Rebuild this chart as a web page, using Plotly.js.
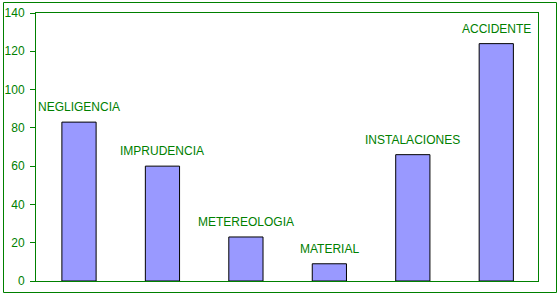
<!DOCTYPE html>
<html>
<head>
<meta charset="utf-8">
<script src="https://cdn.plot.ly/plotly-3.0.1.min.js"></script>
<style>
html,body{margin:0;padding:0;background:#fff;}
#chart{width:559px;height:295px;}
</style>
</head>
<body>
<div id="chart"></div>
<script>
var categories = ["NEGLIGENCIA", "IMPRUDENCIA", "METEREOLOGIA", "MATERIAL", "INSTALACIONES", "ACCIDENTE"];
var values = [83, 60, 23, 9, 66, 124];
var yTicks = [0, 20, 40, 60, 80, 100, 120, 140];

var green = '#008000';
var W = 559, H = 295;
var m = {l: 36, r: 21, t: 13, b: 14};
var pw = W - m.l - m.r, ph = H - m.t - m.b;
function px2x(p){ return (p - m.l) / pw; }
function py2y(p){ return (H - m.b - p) / ph; }

var trace = {
  type: 'bar',
  x: categories,
  y: values,
  marker: {color: '#9999FF', line: {color: '#000000', width: 1}},
  hoverinfo: 'none'
};

var annotations = categories.map(function(c, i){
  return {
    x: c, y: values[i], xref: 'x', yref: 'y',
    text: c, showarrow: false,
    yanchor: 'bottom', xanchor: 'center', yshift: 6,
    font: {family: 'Liberation Sans, Arial, sans-serif', size: 12, color: green}
  };
});

var layout = {
  width: W, height: H,
  margin: m,
  paper_bgcolor: '#ffffff',
  plot_bgcolor: '#ffffff',
  showlegend: false,
  bargap: 0.59,
  font: {family: 'Liberation Sans, Arial, sans-serif', size: 12, color: green},
  xaxis: {
    showline: true, linecolor: green, linewidth: 1, mirror: true,
    showticklabels: false, ticks: '', showgrid: false, zeroline: false,
    fixedrange: true
  },
  yaxis: {
    range: [0, 140], tickvals: yTicks, ticktext: yTicks.map(String),
    showline: true, linecolor: green, linewidth: 1, mirror: true,
    ticks: 'outside', ticklen: 5, tickcolor: green, tickwidth: 1,
    ticklabelstandoff: 3,
    showgrid: false, zeroline: false,
    tickfont: {family: 'Liberation Sans, Arial, sans-serif', size: 12, color: green},
    fixedrange: true
  },
  annotations: annotations,
  shapes: [{
    type: 'rect', xref: 'paper', yref: 'paper',
    x0: px2x(3.5), x1: px2x(556.5), y0: py2y(292.5), y1: py2y(2.5),
    line: {color: green, width: 1}, fillcolor: 'rgba(0,0,0,0)', layer: 'below'
  }]
};

Plotly.newPlot('chart', [trace], layout, {staticPlot: true, displayModeBar: false});
</script>
</body>
</html>
